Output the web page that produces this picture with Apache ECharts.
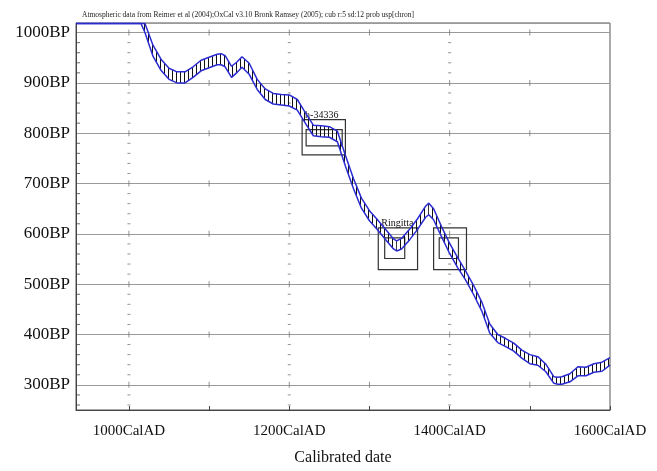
<!DOCTYPE html>
<html>
<head>
<meta charset="utf-8">
<script src="https://cdn.jsdelivr.net/npm/echarts@6/dist/echarts.min.js"></script>
<style>
  html, body { margin: 0; padding: 0; background: #fff; }
  #chart { width: 657px; height: 471px; }
</style>
</head>
<body>
<div id="chart"></div>
<script>
// calibration curve, 1 sigma envelope (BP), clipped at the top of the plot
const years = [934, 1015, 1020, 1030, 1040, 1050, 1060, 1070, 1080, 1090, 1100, 1110, 1115, 1120, 1128, 1135, 1141, 1150,
  1160, 1170, 1180, 1190, 1200, 1210, 1220, 1230, 1240, 1250, 1260, 1270, 1280, 1290, 1300, 1310, 1320, 1330, 1334,
  1340, 1350, 1360, 1370, 1374, 1380, 1390, 1400, 1410, 1420, 1430, 1440, 1450, 1460, 1470, 1480, 1490, 1500, 1510,
  1520, 1530, 1535, 1540, 1550, 1560, 1570, 1580, 1590, 1600];
const upperBP = [1018, 1018, 1018, 975, 947, 929, 922, 922, 932, 945, 951, 957, 958, 954, 933, 942, 952, 939,
  907, 888, 879, 877, 876, 867, 841, 816, 815, 813, 804, 756, 710, 671, 646, 628, 609, 590, 586,
  591, 609, 630, 655, 661, 650, 614, 581, 553, 526, 497, 465, 421, 400, 392, 383, 369, 360, 356,
  341, 316, 315, 316, 322, 336, 335, 342, 345, 354];
const lowerBP = [1018, 1018, 1000, 953, 925, 907, 900, 900, 911, 924, 930, 936, 936, 932, 911, 921, 931, 917,
  887, 867, 858, 856, 854, 846, 820, 795, 793, 792, 783, 735, 690, 651, 626, 608, 589, 570, 566,
  570, 588, 609, 633, 638, 628, 594, 561, 533, 508, 479, 447, 403, 384, 376, 367, 353, 342, 339,
  326, 303, 301, 301, 306, 318, 318, 325, 327, 339];

// radiocarbon dates: 2 sigma (outer) and 1 sigma (inner) boxes
const dateLabels = ['h-34336', 'Ringitta', ''];
const outerFrom = [1216, 1311, 1380];
const outerTo = [1270, 1360, 1421];
const outerLow = [757, 529, 529];
const outerHigh = [827, 612, 612];
const innerFrom = [1221, 1319, 1387];
const innerTo = [1266, 1344, 1411];
const innerLow = [775, 551, 551];
const innerHigh = [807, 592, 592];

// axes
const xMin = 934, xMax = 1600;
const yMin = 250, yMax = 1019;
const xTicks = [1000, 1100, 1200, 1300, 1400, 1500];
const xDashCols = [1000, 1200, 1400];
const yTicks = [300, 400, 500, 600, 700, 800, 900, 1000];

const titleText = 'Atmospheric data from Reimer et al (2004);OxCal v3.10 Bronk Ramsey (2005); cub r:5 sd:12 prob usp[chron]';

const serif = '"Liberation Serif", "Times New Roman", serif';
const blue = '#2b2bd2';
const grey = '#9a9a9a';

const yMinor = [];
for (let v = 260; v < yMax; v += 20) {
  if (v % 100 !== 0) yMinor.push(v);
}
const crossMarks = [];
xTicks.forEach(x => yTicks.forEach(y => crossMarks.push([x, y])));
const dashMarks = [];
xDashCols.forEach(x => yMinor.forEach(y => dashMarks.push([x, y])));
const leftMinor = yMinor.map(y => [xMin, y]);

// vertical hatching between the two envelope lines
const hatch = document.createElement('canvas');
hatch.width = 4;
hatch.height = 4;
const hctx = hatch.getContext('2d');
hctx.fillStyle = '#111';
hctx.fillRect(0, 0, 1, 4);

const bandSegs = [];
for (let i = 0; i < years.length - 1; i++) {
  bandSegs.push([years[i], lowerBP[i], upperBP[i], years[i + 1], lowerBP[i + 1], upperBP[i + 1]]);
}

function renderBand(params, api) {
  const a = api.coord([api.value(0), api.value(1)]);
  const b = api.coord([api.value(0), api.value(2)]);
  const c = api.coord([api.value(3), api.value(5)]);
  const d = api.coord([api.value(3), api.value(4)]);
  return {
    type: 'polygon',
    shape: { points: [a, b, c, d] },
    style: { fill: { image: hatch, repeat: 'repeat' }, stroke: null },
  };
}

const boxRows = dateLabels.map((name, i) => [outerFrom[i], outerTo[i], outerLow[i], outerHigh[i],
  innerFrom[i], innerTo[i], innerLow[i], innerHigh[i], i]);

function renderBox(params, api) {
  const o0 = api.coord([api.value(0), api.value(3)]);
  const o1 = api.coord([api.value(1), api.value(2)]);
  const i0 = api.coord([api.value(4), api.value(7)]);
  const i1 = api.coord([api.value(5), api.value(6)]);
  const stroke = { fill: null, stroke: '#333', lineWidth: 1.2 };
  const children = [
    { type: 'rect', shape: { x: o0[0], y: o0[1], width: o1[0] - o0[0], height: o1[1] - o0[1] }, style: stroke },
    { type: 'rect', shape: { x: i0[0], y: i0[1], width: i1[0] - i0[0], height: i1[1] - i0[1] }, style: stroke },
  ];
  const label = dateLabels[api.value(8)];
  if (label) {
    children.push({
      type: 'text',
      style: { text: label, x: o0[0] + 3, y: o0[1] + 1, align: 'left', verticalAlign: 'bottom',
        font: '10px ' + serif, fill: '#111' },
    });
  }
  return { type: 'group', children };
}

const chart = echarts.init(document.getElementById('chart'));
chart.setOption({
  animation: false,
  title: {
    text: titleText,
    left: 77,
    top: 6,
    textStyle: { fontFamily: serif, fontSize: 7.5, fontWeight: 'normal', color: '#222' },
  },
  grid: {
    left: 76, right: 47, top: 23, bottom: 57,
    show: true, borderColor: '#555', borderWidth: 1,
  },
  xAxis: {
    type: 'value',
    min: xMin,
    max: xMax,
    splitNumber: 6,
    name: 'Calibrated date',
    nameLocation: 'middle',
    nameGap: 40,
    nameTextStyle: { fontFamily: serif, fontSize: 16, color: '#111' },
    axisLine: { show: true, lineStyle: { color: '#444' } },
    axisTick: { show: true, inside: true, length: 4, lineStyle: { color: '#444' } },
    splitLine: { show: false },
    axisLabel: {
      margin: 14,
      showMinLabel: false,
      fontFamily: serif, fontSize: 15, color: '#111',
      formatter: v => (v % 200 === 0 ? v + 'CalAD' : ''),
    },
  },
  yAxis: {
    type: 'value',
    min: yMin,
    max: yMax,
    splitNumber: 8,
    axisLine: { show: true, lineStyle: { color: '#444' } },
    axisTick: { show: false },
    splitLine: { show: true, lineStyle: { color: grey, width: 1 } },
    axisLabel: {
      margin: 6,
      showMinLabel: false,
      showMaxLabel: false,
      fontFamily: serif, fontSize: 17, color: '#111',
      formatter: v => v + 'BP',
    },
  },
  series: [
    {
      type: 'scatter', silent: true, data: crossMarks, symbol: 'rect', symbolSize: [1, 6],
      itemStyle: { color: '#777' }, z: 1,
    },
    {
      type: 'scatter', silent: true, data: dashMarks, symbol: 'rect', symbolSize: [3, 1],
      itemStyle: { color: '#777' }, z: 1,
    },
    {
      type: 'scatter', silent: true, data: leftMinor, symbol: 'rect', symbolSize: [4, 1], symbolOffset: [2, 0],
      itemStyle: { color: '#444' }, z: 1,
    },
    {
      type: 'custom', silent: true, data: boxRows, renderItem: renderBox, z: 2,
    },
    {
      type: 'custom', silent: true, data: bandSegs, renderItem: renderBand, z: 3,
    },
    {
      name: 'upper', type: 'line', silent: true, symbol: 'none',
      data: years.map((y, i) => [y, upperBP[i]]),
      lineStyle: { color: blue, width: 1.5 }, z: 4,
    },
    {
      name: 'lower', type: 'line', silent: true, symbol: 'none',
      data: years.map((y, i) => [y, lowerBP[i]]),
      lineStyle: { color: blue, width: 1.5 }, z: 4,
    },
  ],
});
</script>
</body>
</html>
